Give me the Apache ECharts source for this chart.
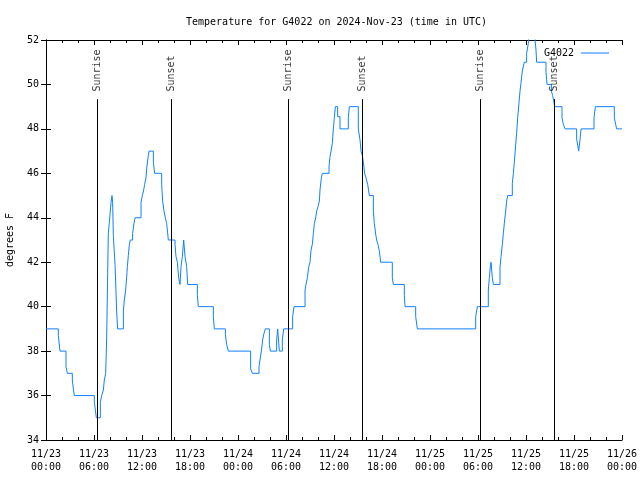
<!DOCTYPE html>
<html>
<head>
<meta charset="utf-8">
<script src="https://cdn.jsdelivr.net/npm/echarts@6/dist/echarts.min.js"></script>
<style>html,body{margin:0;padding:0;background:#fff}#c{width:640px;height:480px}</style>
</head>
<body>
<div id="c"></div>
<script>
// Hours since 2024-11-23 00:00 UTC where the reading changes, and the new reading (deg F)
const changeHours = [
  0.0, 1.54, 1.75, 2.5, 2.67, 3.29, 3.42, 3.54, 6.04, 6.17, 6.29, 6.79, 6.96, 7.17, 7.29, 7.46,
  7.58, 7.71, 7.79, 7.92, 8.04, 8.13, 8.25, 8.33, 8.42, 8.63, 8.75, 8.83, 8.96,
  9.67, 9.79, 9.96, 10.08, 10.17, 10.29, 10.42, 10.54, 10.83, 11.0, 11.13,
  11.88, 12.04, 12.21, 12.33, 12.5, 12.58, 12.79, 12.88, 13.42, 13.58,
  14.46, 14.58, 14.75, 14.92, 15.08, 15.21, 15.29, 16.13, 16.25, 16.42, 16.58, 16.75,
  16.88, 17.04, 17.21, 17.38, 17.58, 17.71, 18.92, 19.04, 20.92, 21.04, 22.42, 22.58, 22.79,
  25.58, 25.79, 26.63, 26.75, 26.92, 27.08, 27.21, 27.42, 27.92, 28.04,
  28.83, 28.96, 29.17, 29.54, 29.71, 30.83, 31.0,
  32.38, 32.5, 32.67, 32.83, 33.0, 33.13, 33.29, 33.42, 33.54, 33.71, 33.83, 34.0, 34.17, 34.25, 34.42, 34.54,
  35.38, 35.5, 35.63, 35.79, 35.92, 36.04, 36.17, 36.46, 36.75, 37.79, 37.92,
  39.04, 39.25, 39.38, 39.54, 39.67, 39.83, 40.0, 40.21, 40.42, 40.92, 41.04, 41.21, 41.33, 41.5, 41.67, 41.83,
  43.29, 43.42, 44.79, 44.88, 46.21, 46.42,
  53.71, 53.92, 55.29, 55.42, 55.54, 55.63, 55.79, 55.92,
  56.75, 56.88, 57.04, 57.17, 57.29, 57.46, 57.58, 57.71,
  58.29, 58.42, 58.54, 58.71, 58.83, 58.96, 59.13, 59.25, 59.38, 59.54, 59.79, 60.08, 60.29, 60.42,
  61.13, 61.25, 61.33, 62.5, 62.63, 63.17, 63.33, 63.5, 63.58,
  64.5, 64.67, 64.88, 66.33, 66.58, 66.75, 66.88, 68.5, 68.67, 71.04, 71.21, 71.33, 72.0
];
const tempF = [
  39, 38.7, 38, 37.3, 37, 36.7, 36.3, 36, 35.7, 35.35, 35, 35.7, 36, 36.25, 36.7, 37,
  38.5, 41.5, 43.3, 43.8, 44.3, 44.7, 45, 44.7, 43.15, 41.9, 40.7, 39.8, 39,
  39.8, 40.3, 40.75, 41.3, 41.8, 42.3, 42.8, 43, 43.3, 43.75, 44,
  44.7, 45, 45.25, 45.5, 45.8, 46.2, 46.8, 47, 46.5, 46,
  45.5, 44.75, 44.3, 44, 43.75, 43.3, 43, 42.8, 42.25, 42, 41.3, 41,
  41.8, 42.25, 43, 42.25, 41.8, 41, 40.5, 40, 39.55, 39, 38.75, 38.3, 38,
  37.2, 37, 37.3, 37.6, 38, 38.5, 38.75, 39, 38.3, 38,
  38.5, 39, 38, 38.5, 39, 39.55, 40,
  40.75, 41, 41.3, 41.77, 42, 42.55, 42.8, 43.3, 43.75, 44, 44.3, 44.5, 44.75, 45.25, 45.8, 46,
  46.3, 46.75, 47, 47.35, 48, 48.5, 49, 48.55, 48, 48.5, 49,
  48, 47.5, 47, 46.8, 46.5, 46, 45.8, 45.5, 45, 44.3, 43.75, 43.27, 43, 42.8, 42.5, 42,
  41.3, 41, 40.5, 40, 39.55, 39,
  39.55, 40, 40.75, 41.3, 41.8, 42, 41.3, 41,
  41.77, 42.25, 42.8, 43.3, 43.75, 44.3, 44.75, 45,
  45.55, 46, 46.5, 47.28, 47.8, 48.5, 49.2, 49.7, 50.1, 50.6, 51, 51.4, 51.85, 53,
  52, 51.55, 51, 50.55, 50, 49.7, 49.5, 49.2, 49,
  48.5, 48.2, 48, 47.55, 47, 47.5, 48, 48.5, 49, 48.5, 48.2, 48, 48
];
const sunEventHours = [6.42, 15.67, 30.27, 39.54, 54.27, 63.52];
const sunEventNames = ['Sunrise', 'Sunset', 'Sunrise', 'Sunset', 'Sunrise', 'Sunset'];
const tickDates = ['11/23', '11/24', '11/25', '11/26'];
const seriesName = 'G4022';
const titleText = 'Temperature for G4022 on 2024-Nov-23 (time in UTC)';
const yName = 'degrees F';

const FONT = 'DejaVu Sans Mono';
const BLUE = '#1080ff';
const LINE_TOP = 49.34;
const data = changeHours.map((h, i) => [h, tempF[i]]);
const sunLines = sunEventHours.map(h => [{coord: [h, 34]}, {coord: [h, LINE_TOP]}]);
const sunLabels = sunEventHours.map((h, i) => ({value: [h, LINE_TOP], name: sunEventNames[i]}));

function fmtX(v) {
  const d = Math.floor(v / 24 + 1e-9);
  const hh = Math.round(v - d * 24);
  return tickDates[d] + '\n' + String(hh).padStart(2, '0') + ':00';
}

const chart = echarts.init(document.getElementById('c'), null, {renderer: 'canvas'});
const axisCommon = {
  axisLine: {show: true, lineStyle: {color: '#000', width: 1}},
  splitLine: {show: false}
};
chart.setOption({
  animation: false,
  backgroundColor: '#fff',
  textStyle: {fontFamily: FONT},
  title: {
    text: titleText, left: 181, top: 12,
    textStyle: {fontFamily: FONT, fontSize: 10, fontWeight: 'normal', color: '#000'}
  },
  legend: {
    data: [{name: seriesName, icon: 'rect'}], right: 26, top: 43, align: 'right',
    itemWidth: 28, itemHeight: 1, itemGap: 0,
    itemStyle: {color: BLUE},
    textStyle: {fontFamily: FONT, fontSize: 10, color: '#000', padding: [0, 2, 0, 0]}
  },
  grid: {left: 46, right: 18, top: 40, bottom: 40, containLabel: false, outerBoundsMode: 'none'},
  xAxis: [{
    type: 'value', min: 0, max: 72, interval: 6, position: 'bottom',
    ...axisCommon,
    axisTick: {show: true, inside: true, length: 5, lineStyle: {color: '#000'}},
    minorTick: {show: true, splitNumber: 3, length: 3, lineStyle: {color: '#000'}},
    axisLabel: {show: true, formatter: fmtX, fontFamily: FONT, fontSize: 10, color: '#000',
      lineHeight: 13, margin: 8, showMinLabel: true, showMaxLabel: true, hideOverlap: false}
  }, {
    type: 'value', min: 0, max: 72, interval: 6, position: 'top',
    ...axisCommon,
    axisTick: {show: true, inside: true, length: 5, lineStyle: {color: '#000'}},
    minorTick: {show: true, splitNumber: 3, length: 3, lineStyle: {color: '#000'}},
    axisLabel: {show: false}
  }],
  yAxis: [{
    type: 'value', min: 34, max: 52, interval: 2, position: 'left',
    ...axisCommon,
    axisTick: {show: true, inside: true, length: 5, lineStyle: {color: '#000'}},
    axisLabel: {show: true, fontFamily: FONT, fontSize: 10, color: '#000', margin: 7},
    name: yName, nameLocation: 'middle', nameRotate: 90, nameGap: 31,
    nameTextStyle: {fontFamily: FONT, fontSize: 10, color: '#000'}
  }, {
    type: 'value', min: 34, max: 52, interval: 2, position: 'right',
    ...axisCommon,
    axisTick: {show: true, inside: true, length: 5, lineStyle: {color: '#000'}},
    axisLabel: {show: false}
  }],
  series: [{
    name: seriesName, type: 'line', step: 'end', data: data,
    symbol: 'none', clip: true,
    lineStyle: {color: BLUE, width: 1},
    itemStyle: {color: BLUE},
    markLine: {
      silent: true, symbol: ['none', 'none'], animation: false,
      lineStyle: {color: '#000', width: 1, type: 'solid'},
      label: {show: false},
      data: sunLines
    },
    z: 3
  }, {
    name: 'sun', type: 'scatter', data: sunLabels, symbolSize: 1,
    itemStyle: {color: 'rgba(0,0,0,0)'},
    label: {
      show: true, formatter: p => p.name, position: 'top', distance: 7,
      rotate: 90, align: 'left', verticalAlign: 'middle',
      fontFamily: FONT, fontSize: 10, color: '#000'
    },
    z: 4
  }]
});
</script>
</body>
</html>
